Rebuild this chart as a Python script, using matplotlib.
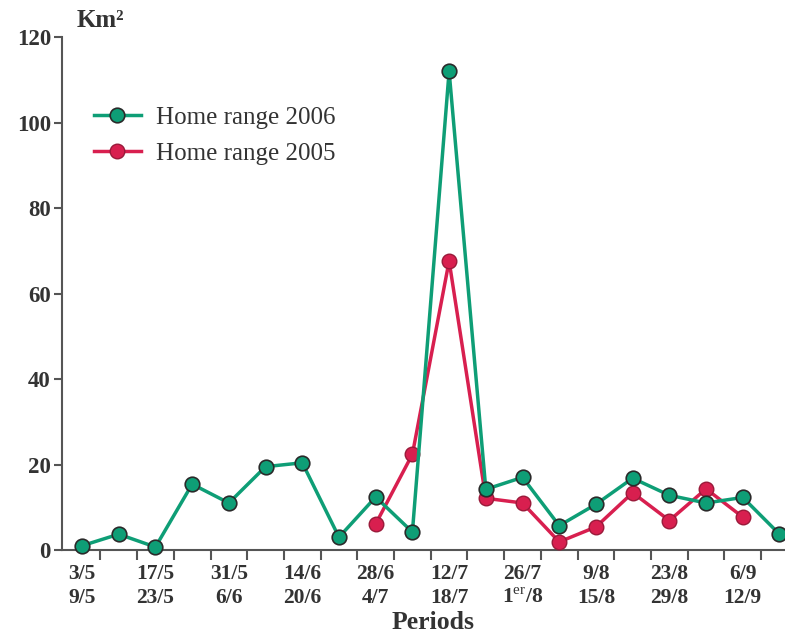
import numpy as np
import matplotlib
matplotlib.use("Agg")
import matplotlib.pyplot as plt

plt.rcParams['font.family'] = ['Liberation Serif', 'DejaVu Serif']
plt.rcParams['mathtext.fontset'] = 'custom'
plt.rcParams['mathtext.rm'] = 'Liberation Serif'

# period index (one point per week, 3/5 to 18/9)
periods = list(range(20))
# home range in km2
range_2006 = [1.0, 3.7, 0.7, 15.4, 11.0, 19.5, 20.4, 3.0, 12.4, 4.2,
              112.0, 14.2, 17.0, 5.7, 10.7, 16.8, 12.8, 11.0, 12.3, 3.7]
periods_2005 = list(range(8, 19))
range_2005 = [6.1, 22.4, 67.6, 12.1, 11.0, 1.9, 5.4, 13.4, 6.9, 14.3, 7.7]

tick_labels = ['3/5\n9/5', '17/5\n23/5', '31/5\n6/6', '14/6\n20/6', '28/6\n4/7',
               '12/7\n18/7', '26/7\n1$^{\\rm er}$/8', '9/8\n15/8', '23/8\n29/8', '6/9\n12/9']

green = '#0e9e76'
red = '#d81f4f'

fig = plt.figure(figsize=(7.85, 6.36), dpi=100)
ax = fig.add_axes([0.079, 0.1352, 0.921, 0.8066])

ax.plot(periods_2005, range_2005, color=red, lw=2.5, marker='o', ms=10.5,
        mfc=red, mec='#9a1a3a', mew=1.0, label='Home range 2005', clip_on=False, zorder=3)
ax.plot(periods, range_2006, color=green, lw=2.5, marker='o', ms=10.5,
        mfc=green, mec='#2a2a2a', mew=1.2, label='Home range 2006', clip_on=False, zorder=4)

ax.set_xlim(-0.545, 19.15)
ax.set_ylim(0, 120)

ax.spines['top'].set_visible(False)
ax.spines['right'].set_visible(False)
for s in ['left', 'bottom']:
    ax.spines[s].set_color('#555555')
    ax.spines[s].set_linewidth(1.5)

ax.set_yticks([0, 20, 40, 60, 80, 100, 120])
ax.tick_params(axis='y', length=6, width=1.5, color='#555555', labelsize=16.5, pad=2)
for t in ax.get_yticklabels():
    t.set_fontweight('bold')
    t.set_color('#333333')

ax.set_xticks(np.arange(0.5, 19, 1.0))
ax.set_xticklabels([])
ax.tick_params(axis='x', which='major', length=7, width=1.5, color='#555555')
ax.set_xticks(periods[::2], minor=True)
ax.set_xticklabels(tick_labels, minor=True, fontsize=15.5, fontweight='bold',
                   color='#333333', linespacing=1.3)
ax.tick_params(axis='x', which='minor', length=0, pad=10)

ax.set_xlabel('Periods', fontsize=18.5, fontweight='bold', color='#333333', labelpad=2)
ax.xaxis.label.set_x(0.513)
ax.text(0.02, 1.01, 'Km²', transform=ax.transAxes, fontsize=18,
        fontweight='bold', color='#333333', va='bottom', ha='left')

handles, labels = ax.get_legend_handles_labels()
ax.legend(handles[::-1], labels[::-1], loc='upper left', bbox_to_anchor=(0.03, 0.885),
          frameon=False, fontsize=18, handlelength=1.9, handletextpad=0.6,
          labelcolor='#333333', borderaxespad=0, labelspacing=0.55)

fig.savefig('out.png', dpi=100)
